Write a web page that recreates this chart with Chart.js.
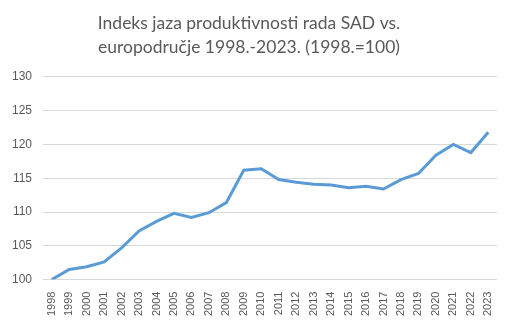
<!DOCTYPE html>
<html>
<head>
<meta charset="utf-8">
<script src="https://cdn.jsdelivr.net/npm/chart.js@4"></script>
<style>
  html, body { margin: 0; padding: 0; background: #ffffff; }
  #wrap { width: 514px; height: 323px; }
</style>
</head>
<body>
<div id="wrap"><canvas id="gapChart" width="514" height="323"></canvas></div>
<script>
// Chart data
const years = ['1998', '1999', '2000', '2001', '2002', '2003', '2004', '2005', '2006',
    '2007', '2008', '2009', '2010', '2011', '2012', '2013', '2014', '2015', '2016',
    '2017', '2018', '2019', '2020', '2021', '2022', '2023'];
const gapIndex = [100, 101.5, 101.9, 102.6, 104.7, 107.2, 108.6, 109.8, 109.2,
    109.9, 111.4, 116.2, 116.4, 114.8, 114.4, 114.1, 114.0, 113.6, 113.8,
    113.4, 114.8, 115.7, 118.4, 120.0, 118.8, 121.8];
const titleLines = ['Indeks jaza produktivnosti rada SAD vs.', 'europodručje 1998.-2023. (1998.=100)'];

let gapChart = null;

function initialiseGapChart() {
    const ctx = document.getElementById('gapChart').getContext('2d');
    gapChart = new Chart(ctx, {
        type: 'line',
        data: {
            labels: years,
            datasets: [{
                label: 'Indeks',
                data: gapIndex,
                borderColor: '#5b9bd5',
                borderWidth: 3,
                fill: false,
                tension: 0,
                pointRadius: 0
            }]
        },
        options: {
            responsive: false,
            animation: false,
            layout: {
                padding: { left: 1, right: 17, top: 11, bottom: 3 }
            },
            scales: {
                x: {
                    offset: true,
                    grid: { display: false },
                    border: { display: false },
                    ticks: {
                        color: '#595959',
                        font: { family: 'Liberation Sans', size: 11 },
                        maxRotation: 90,
                        minRotation: 90,
                        autoSkip: false,
                        padding: 4
                    }
                },
                y: {
                    min: 100,
                    max: 130,
                    grid: { color: '#d9d9d9', drawTicks: false },
                    border: { display: false },
                    ticks: {
                        stepSize: 5,
                        color: '#595959',
                        font: { family: 'Liberation Sans', size: 12 },
                        padding: 11
                    }
                }
            },
            plugins: {
                legend: { display: false },
                tooltip: { enabled: false },
                title: {
                    display: true,
                    text: titleLines,
                    color: '#595959',
                    font: { family: 'Lato', size: 17.5, weight: 'normal', lineHeight: 1.37 },
                    padding: { top: 0, bottom: 18 }
                }
            }
        }
    });
}

initialiseGapChart();
</script>
</body>
</html>
